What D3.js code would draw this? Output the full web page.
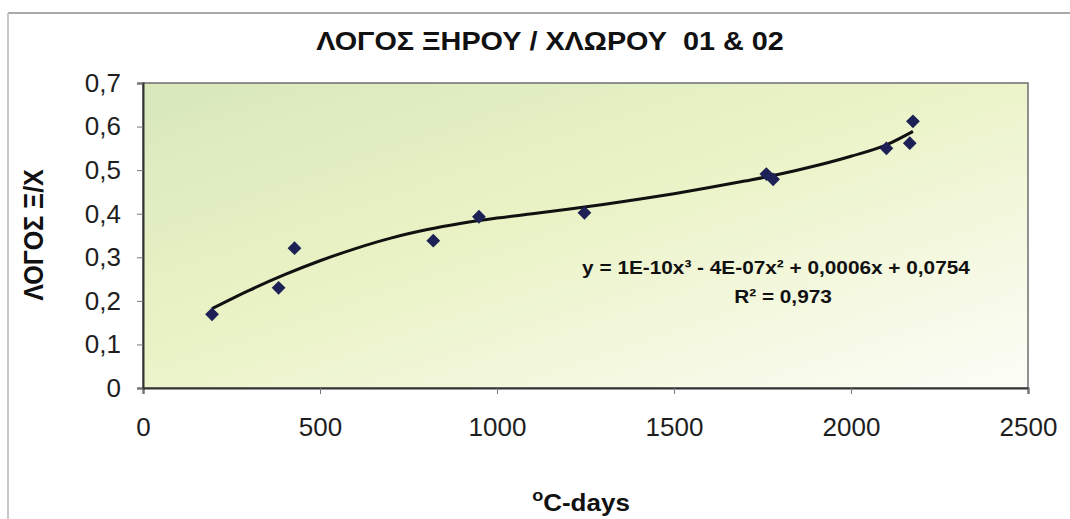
<!DOCTYPE html>
<html>
<head>
<meta charset="utf-8">
<script src="https://cdn.jsdelivr.net/npm/d3@7"></script>
<style>
  body { margin: 0; background: #fff; }
  svg { display: block; font-family: "Liberation Sans", Arial, sans-serif; }
</style>
</head>
<body>
<svg id="chart" width="1070" height="519"></svg>
<script>
// readings (°C-days vs dry/green ratio)
const degreeDays = [195, 383, 428, 820, 949, 1247, 1761, 1780, 2100, 2166, 2175];
const ratio = [0.169, 0.230, 0.321, 0.338, 0.393, 0.402, 0.491, 0.479, 0.550, 0.562, 0.612];

// polynomial trendline
const trendDays = [195, 300, 400, 500, 600, 700, 800, 900, 1000, 1100, 1200, 1300, 1400, 1500, 1600, 1700, 1800, 1900, 2000, 2100, 2175];
const trendRatio = [0.182, 0.224, 0.260, 0.292, 0.320, 0.344, 0.363, 0.378, 0.390, 0.400, 0.410, 0.421, 0.433, 0.446, 0.460, 0.475, 0.491, 0.510, 0.532, 0.558, 0.589];

const xTicks = [0, 500, 1000, 1500, 2000, 2500];
const yTicks = [0, 0.1, 0.2, 0.3, 0.4, 0.5, 0.6, 0.7];

const titleText = "ΛΟΓΟΣ ΞΗΡΟΥ / ΧΛΩΡΟΥ  01 & 02";
const yTitle = "ΛΟΓΟΣ Ξ/Χ";
const equation = "y = 1E-10x³ - 4E-07x² + 0,0006x + 0,0754";
const rSquared = "R² = 0,973";

const svg = d3.select("#chart");
const plot = { left: 143, right: 1028, top: 83, bottom: 388 };
const stretch = 1.13; // the scan is a bit wider than tall

const x = d3.scaleLinear().domain([0, 2500]).range([plot.left, plot.right]);
const y = d3.scaleLinear().domain([0, 0.7]).range([plot.bottom, plot.top]);

const gr = d3.formatLocale({ decimal: ",", thousands: ".", grouping: [3], currency: ["", ""] });
const fmtY = gr.format(".1~f");

// outer frame of the pasted chart
svg.append("line").attr("x1", 8).attr("x2", 1070).attr("y1", 13).attr("y2", 13)
  .attr("stroke", "#8c8c8c").attr("stroke-width", 1.5);
svg.append("line").attr("x1", 8).attr("x2", 8).attr("y1", 13).attr("y2", 519)
  .attr("stroke", "#c8c8c8").attr("stroke-width", 2);

// plot background
const defs = svg.append("defs");
const grad = defs.append("linearGradient").attr("id", "bg")
  .attr("x1", 0).attr("y1", 0).attr("x2", 1).attr("y2", 1);
grad.append("stop").attr("offset", 0).attr("stop-color", "#d8e8bb");
grad.append("stop").attr("offset", 0.45).attr("stop-color", "#eaf3c6");
grad.append("stop").attr("offset", 1).attr("stop-color", "#fdfdf7");

svg.append("rect")
  .attr("x", plot.left).attr("y", plot.top)
  .attr("width", plot.right - plot.left).attr("height", plot.bottom - plot.top)
  .attr("fill", "url(#bg)")
  .attr("stroke", "#6e6e6e").attr("stroke-width", 1.5);

// axes
const xAxis = svg.append("g")
  .attr("transform", `translate(0,${plot.bottom})`)
  .call(d3.axisBottom(x).tickValues(xTicks).tickFormat(d3.format("d")).tickSize(6).tickPadding(24));
const yAxis = svg.append("g")
  .attr("transform", `translate(${plot.left},0)`)
  .call(d3.axisLeft(y).tickValues(yTicks).tickFormat(fmtY).tickSize(6).tickPadding(16));

[xAxis, yAxis].forEach(a => {
  a.select(".domain").attr("stroke", "#333").attr("stroke-width", 2);
  a.selectAll(".tick line").attr("stroke", "#777");
  a.selectAll(".tick text")
    .attr("fill", "#1e1e1e")
    .style("font-size", "26px")
    .style("font-family", "\"Liberation Sans\", Arial, sans-serif");
});

// trendline
const line = d3.line()
  .x(d => x(d[0]))
  .y(d => y(d[1]))
  .curve(d3.curveMonotoneX);

svg.append("path")
  .datum(d3.zip(trendDays, trendRatio))
  .attr("d", line)
  .attr("fill", "none")
  .attr("stroke", "#111")
  .attr("stroke-width", 3)
  .attr("stroke-linejoin", "round");

// markers
svg.append("g")
  .selectAll("path")
  .data(d3.zip(degreeDays, ratio))
  .join("path")
  .attr("d", d3.symbol(d3.symbolSquare, 95))
  .attr("transform", d => `translate(${x(d[0])},${y(d[1])}) rotate(45)`)
  .attr("fill", "#1d2156");

// text helper, widened like the scan
function label(cx, cy, txt, size, sx, rotate) {
  const g = svg.append("g")
    .attr("transform", `translate(${cx},${cy}) scale(${sx},1)${rotate ? ` rotate(${rotate})` : ""}`);
  return g.append("text")
    .attr("text-anchor", "middle")
    .attr("font-weight", "bold")
    .attr("fill", "#111")
    .style("font-size", size + "px")
    .style("white-space", "pre")
    .text(txt);
}

label(550, 50, titleText, 25.5, stretch);
label(43, 235, yTitle, 25, stretch, -90);
label(776, 274, equation, 19, 1.095);
label(783, 303, rSquared, 19, 1.095);

// x axis title with superscript o
const xt = svg.append("g")
  .attr("transform", `translate(581,511) scale(${stretch},1)`)
  .append("text")
  .attr("text-anchor", "middle")
  .attr("font-weight", "bold")
  .attr("fill", "#111")
  .style("font-size", "23px");
xt.append("tspan").attr("dy", -10).style("font-size", "16px").text("o");
xt.append("tspan").attr("dy", 10).text("C-days");
</script>
</body>
</html>
